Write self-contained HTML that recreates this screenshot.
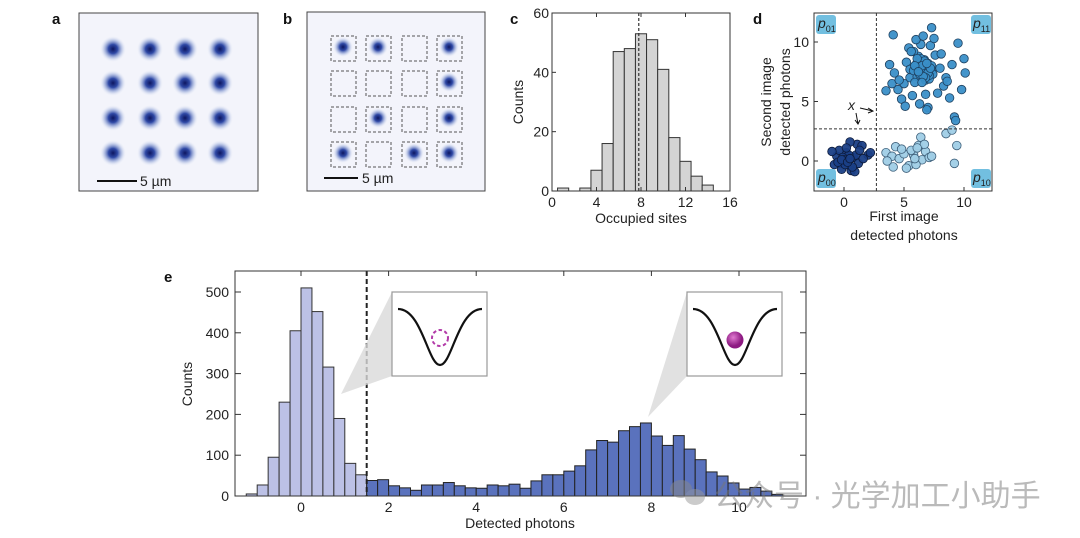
<!DOCTYPE html>
<html><head><meta charset="utf-8"><style>
body{margin:0;background:#fff;}
svg{display:block;font-family:"Liberation Sans","Noto Sans CJK SC",sans-serif;}
</style></head><body>
<svg id="fig" width="1080" height="538" viewBox="0 0 1080 538" xmlns="http://www.w3.org/2000/svg">
<defs>
<radialGradient id="spot"><stop offset="0" stop-color="#0d1660"/><stop offset="0.35" stop-color="#2f49a6"/><stop offset="0.7" stop-color="#9fb0dc" stop-opacity="0.6"/><stop offset="1" stop-color="#e8ecf7" stop-opacity="0"/></radialGradient>
<radialGradient id="ball" cx="0.4" cy="0.35"><stop offset="0" stop-color="#e07ad0"/><stop offset="1" stop-color="#8d1a82"/></radialGradient>
</defs>
<g id="root"></g>
</svg>
<script>
// ---- panel c data ----
const cSites=[1,2,3,4,5,6,7,8,9,10,11,12,13,14];
const cCounts=[1,0,1,7,16,47,48,53,51,41,18,10,5,2];
const cXTicks=[0,4,8,12,16];
const cYTicks=[0,20,40,60];
const cMean=7.8;
// ---- panel e data ----
const eLightStart=-1.25;
const eLightCounts=[5,27,95,230,405,510,452,316,190,80,52];
const eDarkStart=1.5;
const eDarkCounts=[38,40,25,20,14,27,27,33,25,20,19,27,25,29,19,37,52,52,61,74,113,136,132,160,170,179,147,124,148,115,89,59,49,32,17,21,12,4];
const eBinWidth=0.25;
const eThreshold=1.5;
const eXTicks=[0,2,4,6,8,10];
const eYTicks=[0,100,200,300,400,500];
// ---- panel d data ----
const dX00=[0,0.3,-0.3,0.5,-0.6,0.2,-0.2,0.8,-0.8,1,1.2,0.6,-0.4,1.1,1.5,0.5,2,2.2,1.6,-1,0.9,0.1,0.4,-0.1,0.7,-0.5,0.2,1.3,0,-0.2,0.3,0.5];
const dY00=[0,0.2,-0.2,-0.4,0.4,0.7,-0.7,0.3,-0.3,0.5,-0.2,-0.8,0.9,1.4,1.3,1.6,0.5,0.7,0.2,0.8,-0.9,-0.3,0.5,0.3,-0.5,-0.1,1.1,0.9,0.1,0.1,-0.1,0.2];
const dX11=[6,6.5,7,5.5,6.2,6.8,7.3,5.8,6.4,7.6,8,5,4.5,4.2,3.5,8.5,9,9.5,10,9.8,7,6.3,5.7,6.9,7.8,8.3,5.2,4.8,6,6.6,7.2,5.4,8.8,9.2,4,3.8,7.4,6.1,5.9,6.7,7.1,6.3,5.5,8.1,4.6,5.1,6.8,7.5,9.3,10.1,4.1,7.3,6.4,5.6,8.6,6.2,6.6,6.9,7.1,6.4,6.0,5.8,6.7,7.0,6.3,6.5,6.1,7.3,6.8,5.9,6.6,7.2,6.2,6.9,6.5];
const dY11=[8,7.5,8.2,7,8.8,6.8,7.6,9.2,9.8,8.9,7.8,6.5,6,7.4,5.9,7,8.1,9.9,8.6,6,4.5,4.8,5.5,4.3,5.7,6.3,8.3,5.2,10.2,10.5,9.7,9.5,5.3,3.7,6.5,8.1,7.3,7.1,6.6,8.5,6.9,7.9,7.7,9,6.8,4.6,5.6,10.3,3.4,7.4,10.6,11.2,8.6,9.2,6.7,7.8,7.9,7.6,7.2,8.3,8.1,7.6,8.4,7.4,7.3,8.0,8.6,8.0,7.0,8.0,7.1,7.8,7.5,8.2,6.6];
const dX10=[3.5,4,4.3,4.6,5,5.4,5.8,6.2,6.5,6.8,7.1,4.1,4.8,5.6,6,6.4,7.3,3.6,5.2,6.7,8.5,9,9.4,9.2,5.9,6.1];
const dY10=[0.7,0.4,1.2,0.2,0.6,-0.4,0.5,1.3,0.1,0.8,0.3,-0.5,1,0.9,-0.3,2,0.4,0,-0.6,1.4,2.3,2.6,1.3,-0.2,0.2,1.1];
const dTicks=[0,5,10];

const NS="http://www.w3.org/2000/svg";
const root=document.getElementById('root');
function mk(tag,attrs,parent){const e=document.createElementNS(NS,tag);for(const k in attrs)e.setAttribute(k,attrs[k]);(parent||root).appendChild(e);return e;}
function txt(s,x,y,attrs,parent){const e=mk('text',Object.assign({x:x,y:y,'font-size':13,fill:'#222'},attrs||{}),parent);e.textContent=s;return e;}

[['a',52,24],['b',283,24],['c',510,24],['d',753,24],['e',164,282]].forEach(p=>{
  const t=txt(p[0],p[1],p[2],{'font-weight':'bold','font-size':15,fill:'#111'});
  
  
});

// ---- panel a ----
const ga=mk('g',{});


mk('rect',{x:79,y:13,width:179,height:178,fill:'#f3f4fb',stroke:'#444','stroke-width':1},ga);
[113,150,185,220].forEach(cx=>[49,83,118,153].forEach(cy=>{
  const s=mk('circle',{cx:cx,cy:cy,r:13,fill:'url(#spot)'},ga);
  
  
}));
mk('line',{x1:97,x2:137,y1:181,y2:181,stroke:'#111','stroke-width':2},ga);
txt('5 µm',140,186,{'font-size':14},ga);

// ---- panel b ----
const gb=mk('g',{});


mk('rect',{x:307,y:12,width:178,height:179,fill:'#f3f4fb',stroke:'#444','stroke-width':1},gb);
const bCols=[331,366,402,437], bRows=[36,71,107,142];
const bFilled=[[1,1,0,1],[0,0,0,1],[0,1,0,1],[1,0,1,1]];
bRows.forEach((y,r)=>bCols.forEach((x,c)=>{
  if(bFilled[r][c]){const s=mk('circle',{cx:x+12,cy:y+11,r:10,fill:'url(#spot)'},gb);
    }
  const b=mk('rect',{x:x,y:y,width:25,height:25,fill:'none',stroke:'#555','stroke-width':1,'stroke-dasharray':'3,2'},gb);
  
}));
mk('line',{x1:324,x2:358,y1:178,y2:178,stroke:'#111','stroke-width':2},gb);
txt('5 µm',362,183,{'font-size':14},gb);

// ---- panel c ----
const gc=mk('g',{});


const cL=552,cR=730,cT=13,cB=191;
const cx=v=>cL+(v-0)/(16-0)*(cR-cL), cy=v=>cB-(v/60)*(cB-cT);
cSites.forEach((s,i)=>{ if(cCounts[i]<=0)return;
  const r=mk('rect',{x:cx(s-0.5),y:cy(cCounts[i]),width:cx(s+0.5)-cx(s-0.5),height:cB-cy(cCounts[i]),fill:'#d4d4d4',stroke:'#333','stroke-width':1},gc);
  });
mk('line',{x1:cx(cMean),x2:cx(cMean),y1:cT,y2:cB,stroke:'#333','stroke-dasharray':'3,2','stroke-width':1.2},gc);
mk('rect',{x:cL,y:cT,width:cR-cL,height:cB-cT,fill:'none',stroke:'#333','stroke-width':1},gc);
cXTicks.forEach(t=>{mk('line',{x1:cx(t),x2:cx(t),y1:cB,y2:cB-4,stroke:'#333'},gc);mk('line',{x1:cx(t),x2:cx(t),y1:cT,y2:cT+4,stroke:'#333'},gc);
  const l=txt(t,cx(t),cB+16,{'text-anchor':'middle','font-size':14},gc);});
cYTicks.forEach(t=>{mk('line',{x1:cL,x2:cL+4,y1:cy(t),y2:cy(t),stroke:'#333'},gc);
  const l=txt(t,cL-3,cy(t)+5,{'text-anchor':'end','font-size':14},gc);});
const cxl=txt('Occupied sites',641,223,{'text-anchor':'middle','font-size':14},gc);
const cyl=txt('Counts',523,102,{'text-anchor':'middle','font-size':14,transform:'rotate(-90 523 102)'},gc);

// ---- panel d ----
const gd=mk('g',{});


const dL=814,dR=992,dT=13,dB=191;
const dxf=v=>844+v*12, dyf=v=>161-v*11.9;
function pts(X,Y,fill,stroke,name){X.forEach((x,i)=>{const c=mk('circle',{cx:dxf(x),cy:dyf(Y[i]),r:4.3,fill:fill,stroke:stroke,'stroke-width':0.8,'fill-opacity':0.95},gd);
  });}
pts(dX10,dY10,'#9fcde6','#3d5f7a','point-p10');
pts(dX11,dY11,'#3a8fc8','#1d3f5e','point-p11');
pts(dX00,dY00,'#1a3f86','#0c1a3a','point-p00');
mk('line',{x1:dxf(2.7),x2:dxf(2.7),y1:dT,y2:dB,stroke:'#333','stroke-dasharray':'3,2'},gd);
mk('line',{x1:dL,x2:dR,y1:dyf(2.7),y2:dyf(2.7),stroke:'#333','stroke-dasharray':'3,2'},gd);
mk('rect',{x:dL,y:dT,width:dR-dL,height:dB-dT,fill:'none',stroke:'#333'},gd);
[['01',816,15],['11',971,15],['00',816,169],['10',971,169]].forEach(q=>{
  mk('rect',{x:q[1],y:q[2],width:20,height:19,rx:3,fill:'#72bfe0'},gd);
  const t=txt('p',q[1]+2,q[2]+13,{'font-style':'italic','font-size':14},gd);
  const s=mk('tspan',{'font-size':9,'font-style':'normal',dy:4},t);s.textContent=q[0];
  
});
txt('x',848,110,{'font-style':'italic','font-size':14},gd);
mk('path',{d:'M860 108 L873 111 M868 108 L873 111 L868 113 M856 113 L858 124 M855 120 L858 124 L860 120',stroke:'#111',fill:'none','stroke-width':1},gd);
dTicks.forEach(t=>{mk('line',{x1:dxf(t),x2:dxf(t),y1:dB,y2:dB-4,stroke:'#333'},gd);mk('line',{x1:dL,x2:dL+4,y1:dyf(t),y2:dyf(t),stroke:'#333'},gd);
  txt(t,dxf(t),dB+16,{'text-anchor':'middle','font-size':14},gd);txt(t,dL-5,dyf(t)+5,{'text-anchor':'end','font-size':14},gd);});
txt('First image',904,221,{'text-anchor':'middle','font-size':14},gd);
txt('detected photons',904,240,{'text-anchor':'middle','font-size':14},gd);
txt('Second image',771,102,{'text-anchor':'middle','font-size':14,transform:'rotate(-90 771 102)'},gd);
txt('detected photons',790,102,{'text-anchor':'middle','font-size':14,transform:'rotate(-90 790 102)'},gd);

// ---- panel e ----
const ge=mk('g',{});


const eL=235,eR=806,eT=271,eB=496;
const ex=v=>301+v*43.8, ey=v=>eB-v*0.408;
eLightCounts.forEach((c,i)=>{const x0=eLightStart+i*eBinWidth;
  const r=mk('rect',{x:ex(x0),y:ey(c),width:ex(x0+eBinWidth)-ex(x0),height:eB-ey(c),fill:'#bcc1e6',stroke:'#333','stroke-width':1},ge);
  });
eDarkCounts.forEach((c,i)=>{const x0=eDarkStart+i*eBinWidth;
  const r=mk('rect',{x:ex(x0),y:ey(c),width:ex(x0+eBinWidth)-ex(x0),height:eB-ey(c),fill:'#5a72bd',stroke:'#222','stroke-width':1},ge);
  });
const th=mk('line',{x1:ex(eThreshold),x2:ex(eThreshold),y1:eT,y2:eB,stroke:'#222','stroke-width':2,'stroke-dasharray':'5,3'},ge);

mk('rect',{x:eL,y:eT,width:eR-eL,height:eB-eT,fill:'none',stroke:'#333'},ge);
eXTicks.forEach(t=>{mk('line',{x1:ex(t),x2:ex(t),y1:eB,y2:eB-5,stroke:'#333'},ge);mk('line',{x1:ex(t),x2:ex(t),y1:eT,y2:eT+5,stroke:'#333'},ge);
  const l=txt(t,ex(t),eB+16,{'text-anchor':'middle','font-size':14},ge);});
eYTicks.forEach(t=>{mk('line',{x1:eL,x2:eL+6,y1:ey(t),y2:ey(t),stroke:'#333'},ge);mk('line',{x1:eR,x2:eR-6,y1:ey(t),y2:ey(t),stroke:'#333'},ge);
  const l=txt(t,eL-6,ey(t)+5,{'text-anchor':'end','font-size':14},ge);});
const exl=txt('Detected photons',520,528,{'text-anchor':'middle','font-size':14},ge);
const eyl=txt('Counts',192,384,{'text-anchor':'middle','font-size':14,transform:'rotate(-90 192 384)'},ge);
function inset(x,y,px,py,filled,name){
  const g=mk('g',{},ge);
  mk('polygon',{points:`${px},${py} ${x},${y} ${x},${y+84}`,fill:'#d9d9d9','fill-opacity':0.8},g);
  mk('rect',{x:x,y:y,width:95,height:84,fill:'#fff',stroke:'#999','stroke-width':1.2},g);
  mk('path',{d:`M${x+6} ${y+17} C${x+30} ${y+17},${x+36} ${y+73},${x+48} ${y+73} C${x+60} ${y+73},${x+66} ${y+17},${x+90} ${y+17}`,fill:'none',stroke:'#111','stroke-width':2.2},g);
  if(filled)mk('circle',{cx:x+48,cy:y+48,r:8.5,fill:'url(#ball)'},g);
  else mk('circle',{cx:x+48,cy:y+46,r:8,fill:'none',stroke:'#b23aa8','stroke-width':2,'stroke-dasharray':'3.5,2.5'},g);
}
inset(392,292,341,394,false,'inset-empty-trap');
inset(687,292,648,417,true,'inset-filled-trap');

const wm=mk('g',{opacity:0.5});


mk('ellipse',{cx:681,cy:489,rx:11,ry:9,fill:'#888'},wm);
mk('ellipse',{cx:695,cy:497,rx:10,ry:8,fill:'#999'},wm);
txt('公众号 · 光学加工小助手',714,506,{'font-size':30,fill:'#777'},wm);
</script>
</body></html>
